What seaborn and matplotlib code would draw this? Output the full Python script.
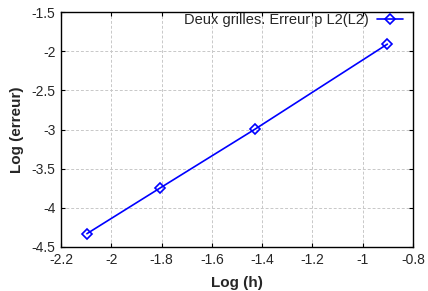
import matplotlib
matplotlib.use("Agg")
import matplotlib.pyplot as plt
import seaborn as sns
import pandas as pd

log_h = [-2.097, -1.806, -1.428, -0.902]
log_err = [-4.33, -3.747, -2.995, -1.91]
label = "Deux grilles. Erreur p L2(L2)"

sns.set_style("ticks")
plt.rcParams['font.family'] = ['Liberation Sans', 'DejaVu Sans']

df = pd.DataFrame({"h": log_h, "err": log_err, "serie": label})

fig = plt.figure(figsize=(4.28, 2.91), dpi=100)
ax = fig.add_axes([61 / 428, 1 - 247 / 291, 352 / 428, 235 / 291])
sns.lineplot(data=df, x="h", y="err", hue="serie", palette=["#0000ff"], marker="D",
             markersize=5, markerfacecolor="none", markeredgecolor="#0000ff",
             markeredgewidth=1.2, linewidth=1.2, ax=ax)

ax.set_xlim(-2.2, -0.8)
ax.set_ylim(-4.5, -1.5)
ax.set_xticks([-2.2, -2, -1.8, -1.6, -1.4, -1.2, -1, -0.8])
ax.set_xticklabels(["-2.2", "-2", "-1.8", "-1.6", "-1.4", "-1.2", "-1", "-0.8"])
ax.set_yticks([-4.5, -4, -3.5, -3, -2.5, -2, -1.5])
ax.set_yticklabels(["-4.5", "-4", "-3.5", "-3", "-2.5", "-2", "-1.5"])
ax.grid(True, linestyle=(0, (3, 2)), color="#c8c8c8", linewidth=0.7)
ax.tick_params(direction="in", length=3, labelsize=10, right=True, top=True, color="black", pad=4)
for s in ax.spines.values():
    s.set_color("black")
    s.set_linewidth(1.0)

ax.set_xlabel("Log (h)", fontweight="bold", fontsize=11, labelpad=7)
ax.set_ylabel("Log (erreur)", fontweight="bold", fontsize=11, labelpad=5)

leg = ax.legend(loc="upper right", frameon=False, fontsize=10.5, markerfirst=False,
                handlelength=1.8, borderaxespad=0.3, handletextpad=0.5,
                bbox_to_anchor=(1.0, 1.04))

fig.savefig("out.png", dpi=100)
